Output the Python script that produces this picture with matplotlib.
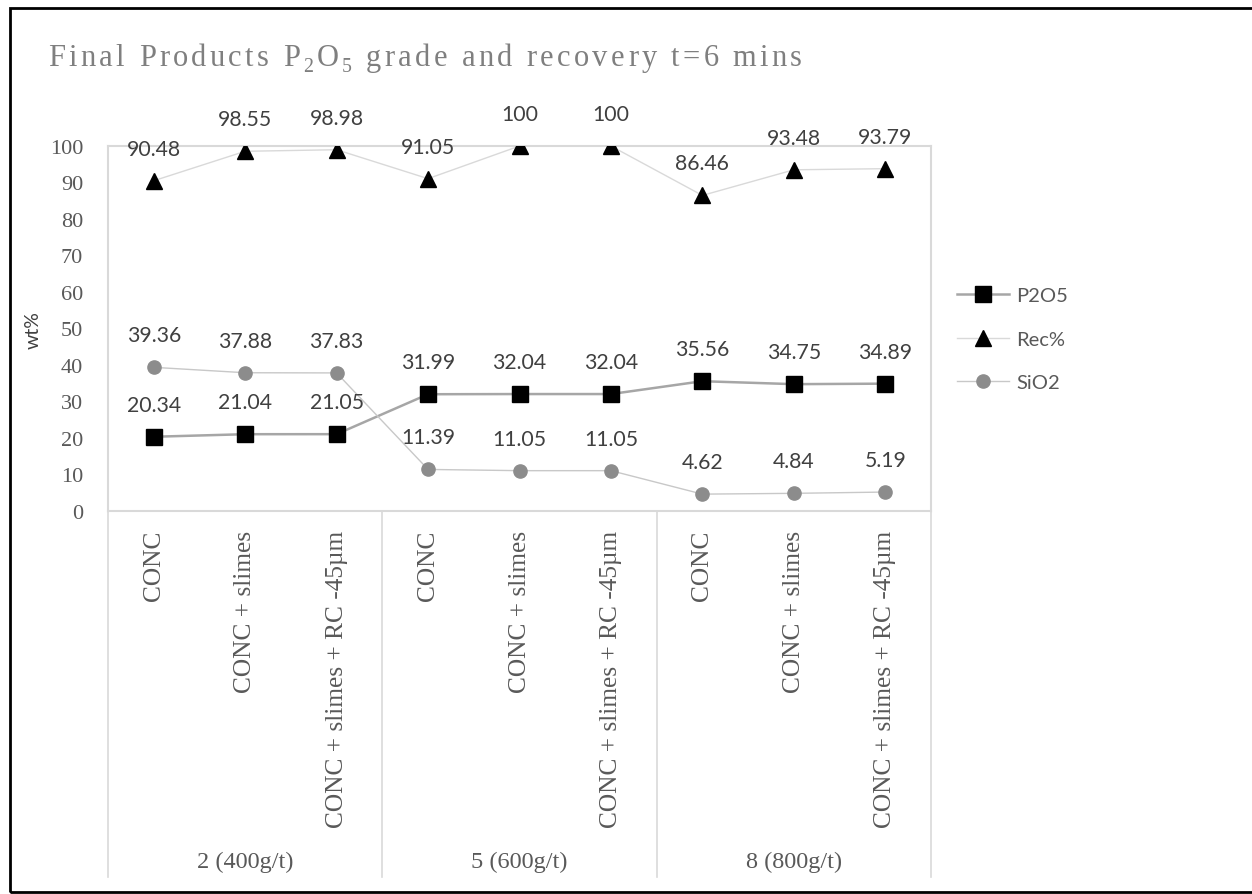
import matplotlib
matplotlib.use("Agg")
import matplotlib.pyplot as plt
import matplotlib.transforms as mtransforms
from matplotlib.lines import Line2D
from matplotlib.patches import Rectangle

# ---- data ----
groups = ["2 (400g/t)", "5 (600g/t)", "8 (800g/t)"]
products = ["CONC", "CONC + slimes", "CONC + slimes + RC -45µm"]
p2o5 = [20.34, 21.04, 21.05, 31.99, 32.04, 32.04, 35.56, 34.75, 34.89]
rec = [90.48, 98.55, 98.98, 91.05, 100, 100, 86.46, 93.48, 93.79]
sio2 = [39.36, 37.88, 37.83, 11.39, 11.05, 11.05, 4.62, 4.84, 5.19]
yticks = list(range(0, 101, 10))

W, H, DPI = 1252, 895, 100
fig = plt.figure(figsize=(W / DPI, H / DPI), dpi=DPI)
fig.patch.set_facecolor("white")

SERIF = ["Liberation Serif", "DejaVu Serif"]
SANS = ["Lato", "DejaVu Sans"]
TXT = "#595959"

# plot area in pixels
L, R, T, B = 108, 931, 147, 512
ax = fig.add_axes([L / W, 1 - B / H, (R - L) / W, (B - T) / H])
n = len(p2o5)
x = list(range(n))
ax.set_xlim(-0.5, n - 0.5)
ax.set_ylim(0, 100)
for s in ax.spines.values():
    s.set_color("#d9d9d9")
    s.set_linewidth(1.5)

ax.set_yticks(yticks)
ax.set_yticklabels([str(v) for v in yticks], family=SERIF, fontsize=16, color=TXT)
ax.tick_params(axis="y", length=0, pad=18)
ax.set_xticks(x)
ax.set_xticklabels(products * len(groups), rotation=90, family=SERIF,
                   fontsize=18.3, color=TXT, va="top", ha="center")
ax.tick_params(axis="x", length=0, pad=13.5)
fig.text(33 / W, 1 - 330 / H, "wt%", rotation=90, ha="center", va="center",
         family=SANS, fontsize=14, color="#404040")

styles = {
    "P2O5": dict(color="#a6a6a6", lw=1.8, marker="s", ms=11, mfc="black", mec="black"),
    "Rec%": dict(color="#d9d9d9", lw=1.0, marker="^", ms=11.5, mfc="black", mec="black"),
    "SiO2": dict(color="#c8c8c8", lw=1.0, marker="o", ms=9.5, mfc="#8c8c8c", mec="#8c8c8c"),
}
series = {"P2O5": p2o5, "Rec%": rec, "SiO2": sio2}
for name, vals in series.items():
    ax.plot(x, vals, label=name, zorder=3, **styles[name])

# value labels above each marker
for vals in series.values():
    for xi, v in zip(x, vals):
        ax.annotate(f"{v:g}", (xi, v), xytext=(0, 22), textcoords="offset pixels",
                    ha="center", va="bottom", family=SANS, fontsize=15.3,
                    color="#404040", annotation_clip=False, zorder=4)

# group separators and group labels below the axis
trans = mtransforms.blended_transform_factory(ax.transData, ax.transAxes)
y_bot = -(878 - B) / (B - T)
for gx in (-0.5, 2.5, 5.5, 8.5):
    ax.add_line(Line2D([gx, gx], [0, y_bot], transform=trans, color="#d9d9d9",
                       lw=1.2, clip_on=False))
y_grp = -(862 - B) / (B - T)
for gi, g in enumerate(groups):
    ax.text(gi * 3 + 1, y_grp, g, transform=trans, ha="center", va="center",
            family=SERIF, fontsize=17.5, color=TXT)

# legend
handles = [Line2D([], [], **styles[k]) for k in series]
leg = fig.legend(handles, list(series), loc="center left",
                 bbox_to_anchor=(939 / W, 1 - 340 / H), frameon=False,
                 prop={"family": SANS, "size": 14.5}, handlelength=2.6,
                 labelspacing=1.3, handletextpad=0.35)
for t in leg.get_texts():
    t.set_color(TXT)

# letter-spaced title; subscripts drawn as smaller, lowered glyphs
title_fs = 22
title_left, title_right, title_base = 48, 802, 66
tokens = [(c, 1.0, 0) for c in "Final Products "]
tokens += [("P", 1.0, 0), ("2", 0.65, 6), ("O", 1.0, 0), ("5", 0.65, 6)]
tokens += [(c, 1.0, 0) for c in " grade and recovery t=6 mins"]
fig.canvas.draw()
renderer = fig.canvas.get_renderer()
space_w = title_fs * DPI / 72 * 0.25
arts, widths = [], []
for ch, scale, dy in tokens:
    t = fig.text(0, 1 - (title_base + dy) / H, ch, family=SERIF,
                 fontsize=title_fs * scale, color="#7f7f7f", ha="left", va="baseline")
    arts.append(t)
    widths.append(space_w if ch == " " else t.get_window_extent(renderer).width)
gap = (title_right - title_left - sum(widths)) / (len(tokens) - 1)
cur_x = title_left
for t, w in zip(arts, widths):
    t.set_x(cur_x / W)
    cur_x += w + gap

# outer frame
fig.add_artist(Rectangle((10 / W, 1 - 893 / H), 1.2, (893 - 9) / H,
                         transform=fig.transFigure, fill=False, ec="black", lw=2))

fig.savefig("out.png", dpi=DPI)
